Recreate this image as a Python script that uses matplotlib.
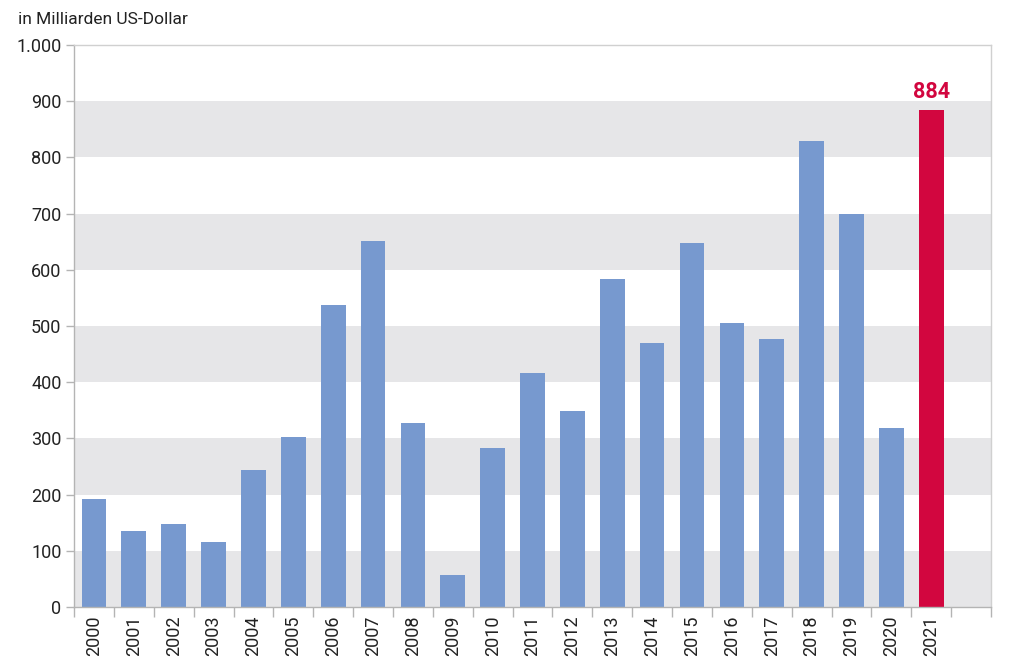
import numpy as np
import matplotlib.pyplot as plt
from matplotlib.ticker import FuncFormatter

plt.rcParams['font.family'] = ['Roboto', 'DejaVu Sans']

# data (billion US dollars)
years = [str(y) for y in range(2000, 2022)]
values = [192, 135, 148, 115, 243, 302, 537, 651, 327, 57, 283, 416,
          349, 584, 470, 648, 505, 477, 829, 700, 318, 884]
highlight = '2021'

blue = '#7799cf'
red = '#d2063f'
band = '#e6e6e8'
spine_c = '#b4b4b4'
text_c = '#222222'

fig = plt.figure(figsize=(10.24, 6.71), dpi=100)
ax = fig.add_axes([0.0723, 0.0954, 0.8955, 0.8375])

# alternating grey bands
for lo in range(0, 1000, 200):
    ax.axhspan(lo, lo + 100, color=band, lw=0, zorder=0)

x = np.arange(len(years))
cols = [red if y == highlight else blue for y in years]
ax.bar(x, values, width=0.62, color=cols, zorder=2)

i = years.index(highlight)
ax.text(x[i], values[i] + 12, str(values[i]), color=red, ha='center', va='bottom',
        fontsize=15.5, fontweight='bold')

ax.set_xlim(-0.5, len(years) + 0.5)
ax.set_ylim(0, 1000)
ax.set_yticks(range(0, 1001, 100))
ax.yaxis.set_major_formatter(FuncFormatter(lambda v, p: f'{int(v):,}'.replace(',', '.')))

ax.set_xticks(x)
ax.set_xticklabels(years, rotation=90)
ax.set_xticks(np.arange(-0.5, len(years) + 1), minor=True)
ax.tick_params(axis='x', which='major', length=0, pad=6, labelsize=13, labelcolor=text_c)
ax.tick_params(axis='x', which='minor', length=7, width=1, color=spine_c)
ax.tick_params(axis='y', length=6, width=1, color=spine_c, labelsize=13, labelcolor=text_c, pad=3)

for s in ax.spines.values():
    s.set_color(spine_c)
    s.set_linewidth(1)
ax.spines['top'].set_color('#d0d0d0')
ax.spines['right'].set_color('#d0d0d0')

fig.text(18 / 1024, 1 - 20 / 671, 'in Milliarden US-Dollar', fontsize=12.5,
         color=text_c, ha='left', va='center')

plt.savefig('out.png', dpi=100)
